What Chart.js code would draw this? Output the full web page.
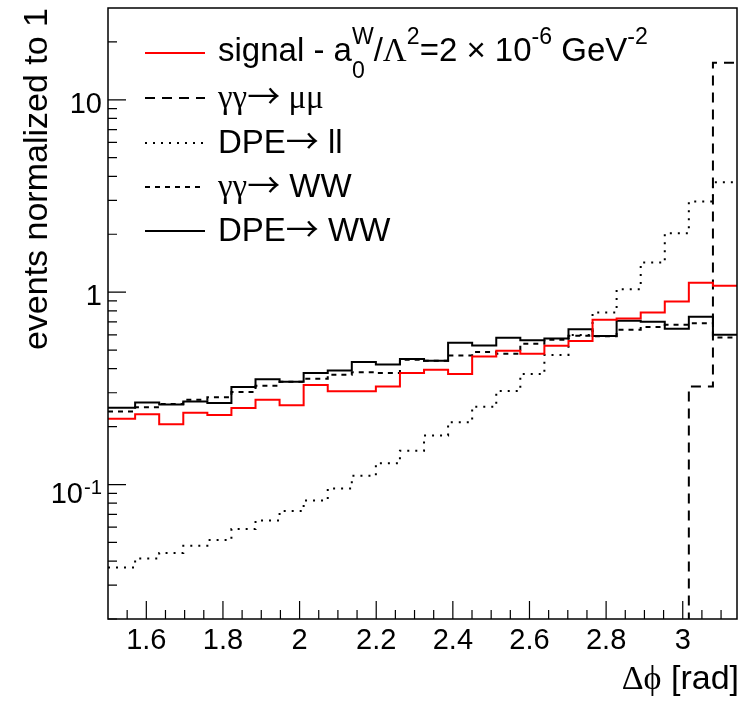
<!DOCTYPE html>
<html>
<head>
<meta charset="utf-8">
<script src="https://cdn.jsdelivr.net/npm/chart.js@4.4.0/dist/chart.umd.min.js"></script>
<style>
  html, body { margin: 0; background: #fff; }
  #wrap { width: 750px; height: 704px; position: relative; }
</style>
</head>
<body>
<div id="wrap"><canvas id="dphiChart"></canvas></div>
<script>
// bin edges in delta phi (rad), bins of pi/50, first one cut at 1.5
const binEdges = [1.5, 1.5708, 1.6336, 1.6965, 1.7593, 1.8221, 1.8850, 1.9478, 2.0106,
  2.0735, 2.1363, 2.1991, 2.2619, 2.3248, 2.3876, 2.4504, 2.5133, 2.5761, 2.6389,
  2.7018, 2.7646, 2.8274, 2.8903, 2.9531, 3.0159, 3.0788, 3.1416];

// one value per bin (normalized events)
const signal = [0.220, 0.232, 0.206, 0.236, 0.230, 0.250, 0.276, 0.258, 0.329, 0.305,
  0.305, 0.323, 0.380, 0.395, 0.376, 0.463, 0.496, 0.478, 0.526, 0.557,
  0.718, 0.729, 0.783, 0.894, 1.12, 1.08];
const aaMuMu = [0, 0, 0, 0, 0, 0, 0, 0, 0, 0, 0, 0, 0, 0, 0, 0, 0, 0, 0, 0,
  0, 0, 0, 0, 0.323, 15.6];
const dpeLL = [0.0371, 0.0412, 0.0441, 0.0481, 0.0515, 0.0587, 0.0651, 0.0728, 0.0827, 0.0954,
  0.111, 0.129, 0.150, 0.180, 0.211, 0.254, 0.306, 0.375, 0.472, 0.598,
  0.783, 1.037, 1.425, 2.025, 2.956, 3.727];
const aaWW = [0.240, 0.252, 0.262, 0.276, 0.284, 0.303, 0.326, 0.342, 0.355, 0.372,
  0.384, 0.380, 0.445, 0.440, 0.469, 0.488, 0.478, 0.539, 0.565, 0.593,
  0.590, 0.637, 0.660, 0.676, 0.690, 0.581];
const dpeWW = [0.251, 0.267, 0.261, 0.270, 0.265, 0.321, 0.353, 0.342, 0.380, 0.392,
  0.433, 0.421, 0.449, 0.440, 0.545, 0.528, 0.579, 0.563, 0.574, 0.642,
  0.591, 0.710, 0.701, 0.645, 0.744, 0.600];

// axis ticks
const xTickLabels = [1.6, 1.8, 2, 2.2, 2.4, 2.6, 2.8, 3];
const xMinorTicks = [1.55, 1.65, 1.7, 1.75, 1.85, 1.9, 1.95, 2.05, 2.1, 2.15, 2.25, 2.3, 2.35,
  2.45, 2.5, 2.55, 2.65, 2.7, 2.75, 2.85, 2.9, 2.95, 3.05, 3.1];
const yTickValues = [0.1, 1, 10];
const yTickBase = ['10', '1', '10'];
const yTickExp = ['-1', '', ''];

const SANS = '"Liberation Sans", Arial, Helvetica, sans-serif';
const SERIF = '"Liberation Serif", "DejaVu Serif", "Times New Roman", serif';
const ARROW = '"Noto Sans CJK JP", "DejaVu Sans", sans-serif';

// legend text, one entry per dataset (same order)
const legendText = [
  [{ t: 'signal - a' }, { t: 'W', sup: true, hold: true }, { t: '0', sub: true }, { t: '/' },
   { t: 'Λ', serif: true }, { t: '2', sup: true }, { t: '=2 ' }, { t: '×' }, { t: ' 10' },
   { t: '-6', sup: true }, { t: ' GeV' }, { t: '-2', sup: true }],
  [{ t: 'γγ', serif: true }, { t: '→', arrow: true }, { t: ' μμ', serif: true }],
  [{ t: 'DPE' }, { t: '→', arrow: true }, { t: ' ll' }],
  [{ t: 'γγ', serif: true }, { t: '→', arrow: true }, { t: ' WW' }],
  [{ t: 'DPE' }, { t: '→', arrow: true }, { t: ' WW' }]
];

// histogram -> points for a stepped line (empty bins pushed below the axis)
function toSteps(values) {
  const pts = values.map((v, i) => ({ x: binEdges[i], y: v > 0 ? v : 1e-4 }));
  pts.push({ x: binEdges[binEdges.length - 1], y: pts[pts.length - 1].y });
  return pts;
}

function histo(label, values, color, dash) {
  return {
    label: label,
    data: toSteps(values),
    borderColor: color,
    borderWidth: 2,
    borderDash: dash,
    borderCapStyle: 'butt',
    borderJoinStyle: 'miter',
    stepped: true,
    pointRadius: 0,
    fill: false
  };
}

function richText(ctx, x, y, parts, size) {
  let held = 0;
  for (const p of parts) {
    let s = (p.sup || p.sub) ? size * 0.7 : size;
    let fam = SANS;
    if (p.serif) fam = SERIF;
    if (p.arrow) fam = ARROW;
    ctx.font = s + 'px ' + fam;
    const dy = p.sup ? -size * 0.52 : (p.sub ? size * 0.52 : 0);
    ctx.fillText(p.t, x, y + dy);
    const w = ctx.measureText(p.t).width;
    if (p.hold) {
      held = w;
    } else {
      x += Math.max(w, held);
      held = 0;
    }
  }
  return x;
}

function richWidth(ctx, parts, size) {
  ctx.save();
  const w = richText(ctx, 0, -9999, parts, size);
  ctx.restore();
  return w;
}

// ROOT-like frame: inward ticks, labels, titles and legend
const rootFrame = {
  id: 'rootFrame',
  afterDatasetsDraw(chart) {
    const { ctx, chartArea: a } = chart;
    const xs = chart.scales.x;
    const ys = chart.scales.y;
    ctx.save();
    ctx.strokeStyle = '#000';
    ctx.fillStyle = '#000';
    ctx.setLineDash([]);

    ctx.lineWidth = 1.5;
    ctx.strokeRect(a.left, a.top, a.right - a.left, a.bottom - a.top);

    // ticks
    ctx.lineWidth = 1.2;
    ctx.beginPath();
    xTickLabels.forEach(v => {
      const px = xs.getPixelForValue(v);
      ctx.moveTo(px, a.bottom); ctx.lineTo(px, a.bottom - 18);
    });
    xMinorTicks.forEach(v => {
      const px = xs.getPixelForValue(v);
      ctx.moveTo(px, a.bottom); ctx.lineTo(px, a.bottom - 9);
    });
    for (let e = -2; e <= 1; e++) {
      for (let m = 1; m <= 9; m++) {
        const v = m * Math.pow(10, e);
        if (v < ys.min || v >= ys.max) continue;
        const py = ys.getPixelForValue(v);
        ctx.moveTo(a.left, py); ctx.lineTo(a.left + (m === 1 ? 18 : 9), py);
      }
    }
    ctx.stroke();

    // x labels
    ctx.font = '29px ' + SANS;
    ctx.textAlign = 'center';
    ctx.textBaseline = 'alphabetic';
    xTickLabels.forEach(v => ctx.fillText(String(v), xs.getPixelForValue(v), a.bottom + 30));

    // y labels
    ctx.textAlign = 'right';
    yTickValues.forEach((v, i) => {
      const py = ys.getPixelForValue(v);
      if (yTickExp[i]) {
        ctx.font = (29 * 0.7) + 'px ' + SANS;
        ctx.fillText(yTickExp[i], 102, py + 9);
        const ew = ctx.measureText(yTickExp[i]).width;
        ctx.font = '29px ' + SANS;
        ctx.fillText(yTickBase[i], 102 - ew - 1, py + 18);
      } else {
        ctx.font = '29px ' + SANS;
        ctx.fillText(yTickBase[i], 102, py + 13);
      }
    });

    // axis titles
    ctx.font = '34px ' + SANS;
    ctx.save();
    ctx.translate(47, a.top);
    ctx.rotate(-Math.PI / 2);
    ctx.textAlign = 'right';
    ctx.fillText('events normalized to 1', 0, 0);
    ctx.restore();

    ctx.textAlign = 'left';
    const xTitle = [{ t: 'Δϕ', serif: true }, { t: ' [rad]' }];
    const tw = richWidth(ctx, xTitle, 34);
    richText(ctx, 739 - tw, 689, xTitle, 34);

    // legend
    const rowY = [53, 98, 143, 187, 231];
    const baseOff = [8, 10, 10, 10, 10];
    chart.data.datasets.forEach((ds, i) => {
      ctx.save();
      ctx.strokeStyle = ds.borderColor;
      ctx.lineWidth = ds.borderWidth;
      ctx.setLineDash(ds.borderDash || []);
      ctx.beginPath();
      ctx.moveTo(145, rowY[i]);
      ctx.lineTo(205, rowY[i]);
      ctx.stroke();
      ctx.restore();
      richText(ctx, 218, rowY[i] + baseOff[i], legendText[i], 33);
    });

    ctx.restore();
  }
};

new Chart(document.getElementById('dphiChart'), {
  type: 'line',
  data: {
    datasets: [
      histo('signal', signal, '#ff0000', []),
      histo('γγ→μμ', aaMuMu, '#000000', [10, 7]),
      histo('DPE→ll', dpeLL, '#000000', [2, 6]),
      histo('γγ→WW', aaWW, '#000000', [5, 5]),
      histo('DPE→WW', dpeWW, '#000000', [])
    ]
  },
  options: {
    responsive: true,
    maintainAspectRatio: false,
    animation: false,
    layout: { padding: { top: 8, right: 13, left: 0, bottom: 0 } },
    plugins: {
      legend: { display: false },
      tooltip: { enabled: false }
    },
    scales: {
      x: {
        type: 'linear',
        min: binEdges[0],
        max: binEdges[binEdges.length - 1],
        grid: { display: false },
        border: { display: false },
        ticks: { display: false },
        afterFit: s => { s.height = 85; }
      },
      y: {
        type: 'logarithmic',
        min: 0.02,
        max: 30,
        grid: { display: false },
        border: { display: false },
        ticks: { display: false },
        afterFit: s => { s.width = 108; }
      }
    }
  },
  plugins: [rootFrame]
});
</script>
</body>
</html>
